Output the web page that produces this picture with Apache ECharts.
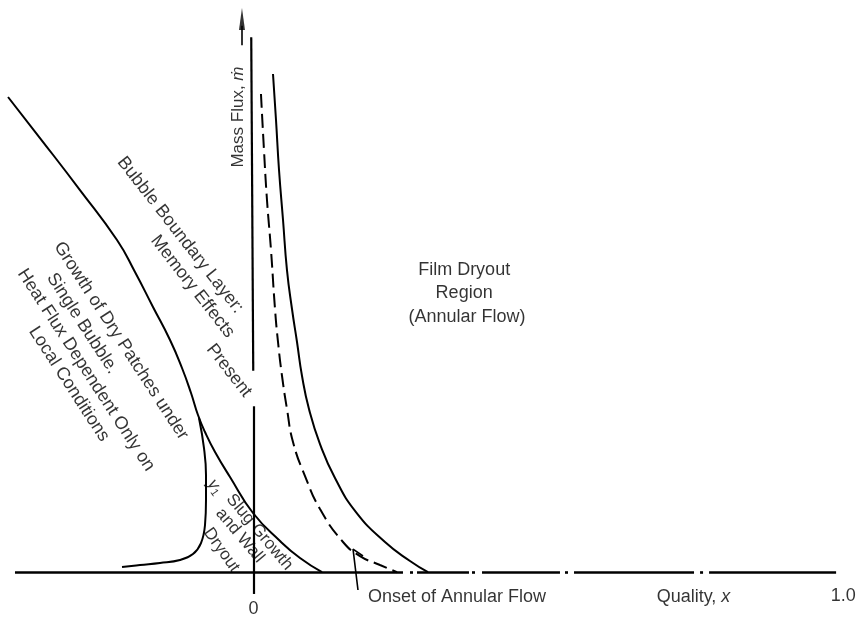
<!DOCTYPE html>
<html><head><meta charset="utf-8">
<script src="https://cdn.jsdelivr.net/npm/echarts@6/dist/echarts.min.js"></script>
<style>html,body{margin:0;padding:0;background:#fff}#c{width:864px;height:618px}</style>
</head><body><div id="c"></div>
<script>
// ---------- data (quality x, mass flux in arbitrary units) ----------
const boundaryCurve = [[-0.4164,83.05],[-0.3622,75.88],[-0.2944,66.79],[-0.2316,58.05],[-0.2011,52.46],[-0.1706,46.35],[-0.1417,40.58],[-0.1214,35.69],[-0.1061,31.32],[-0.0943,27.47],[-0.0824,24.50],[-0.0654,21.01],[-0.0400,16.64],[-0.0010,10.35],[0.0448,5.45],[0.0787,2.48],[0.1160,0]];
const slugCurve = [[-0.0926,26.95],[-0.0841,21.70],[-0.0807,16.99],[-0.0807,12.62],[-0.0824,8.25],[-0.0892,5.10],[-0.1028,3.18],[-0.1248,2.13],[-0.1587,1.61],[-0.1926,1.26],[-0.2231,0.91]];
const annularOnsetCurve = [[0.0125,83.57],[0.0176,73.78],[0.0227,65.05],[0.0295,56.31],[0.0363,46.00],[0.0414,40.23],[0.0482,34.29],[0.0566,28.52],[0.0668,22.75],[0.0872,16.81],[0.1126,11.04],[0.1516,5.28],[0.1804,2.83],[0.2143,1.26],[0.2432,0]];
const filmDryoutCurve = [[0.0329,87.06],[0.0380,79.03],[0.0431,70.29],[0.0499,61.55],[0.0566,52.81],[0.0651,46.00],[0.0736,40.23],[0.0821,34.29],[0.0939,28.52],[0.1126,22.40],[0.1380,16.46],[0.1736,10.52],[0.2228,5.28],[0.2652,1.96],[0.2957,0]];
const onsetPointer = [[0.1855,2.83],[0.1686,4.05],[0.1770,-3.11]];
// quality axis pieces (x from, x to) at mass flux 0
const qualityAxisDashes = [[-0.4046,0.2533],[0.2771,0.3652],[0.3873,0.5195],[0.5433,0.7468],[0.7723,0.9877]];
const qualityAxisDots = [[0.2652,0.2703],[0.3703,0.3754],[0.5280,0.5331],[0.7570,0.7621]];
// mass flux axis pieces ([x,y] from, [x,y] to)
const massFluxAxis = [[[-0.004,93.5],[-0.0006,35.2]],[[0,29.0],[0,-3.8]]];
const massFluxArrow = [[-0.0197,92.1],[-0.0197,95.5]];
const arrowHead = [-0.0197,96.7];
const tickLabels = ['0','1.0'];
const tickValues = [0,1.0];

// ---------- layout ----------
const X_MIN=-0.43, X_MAX=1.035, Y_MIN=-8, Y_MAX=100;
const FONT = '"Liberation Sans", Arial, "DejaVu Sans", sans-serif';
const annotations = [
  {t:'Film Dryout', p:[0.357,52.77], r:0, s:18},
  {t:'Region', p:[0.357,48.75], r:0, s:18},
  {t:'(Annular Flow)', p:[0.362,44.65], r:0, s:18},
  {t:'{a|Mass Flux, }{i|ṁ}', p:[-0.0265,79.55], r:90, s:17},
  {t:'Bubble Boundary Layer:', p:[-0.1245,58.93], r:-52, s:18},
  {t:'Memory Effects', p:[-0.1036,49.93], r:-52, s:18},
  {t:'Present', p:[-0.0417,35.25], r:-52, s:18},
  {t:'Growth of Dry Patches under', p:[-0.2247,40.45], r:-57, s:18},
  {t:'Single Bubble.', p:[-0.2903,43.46], r:-57, s:18},
  {t:'Heat Flux Dependent Only on', p:[-0.2842,35.33], r:-57, s:18},
  {t:'Local Conditions', p:[-0.3130,32.89], r:-57, s:18},
  {t:'{i|y}{sub|1}', p:[-0.0654,14.89], r:-55, s:17},
  {t:'Slug Growth', p:[0.010,7.02], r:-50, s:17},
  {t:'and Wall', p:[-0.0231,6.41], r:-50, s:17},
  {t:'Dryout', p:[-0.0544,3.88], r:-55, s:17},
  {t:'Onset of Annular Flow', p:[0.194,-4.33], r:0, s:18, align:'left'},
  {t:'{a|Quality, }{i|x}', p:[0.7459,-4.33], r:0, s:18},
  {t:tickLabels[0], p:[tickValues[0],-6.43], r:0, s:18},
  {t:tickLabels[1], p:[tickValues[1],-4.16], r:0, s:18}
];

const black = '#000';
function seg(list){ return list.map(c => ({coords:c})); }

const chart = echarts.init(document.getElementById('c'));
chart.setOption({
  animation:false,
  backgroundColor:'#fff',
  grid:{left:0,right:0,top:0,bottom:0},
  xAxis:{type:'value',min:X_MIN,max:X_MAX,show:false},
  yAxis:{type:'value',min:Y_MIN,max:Y_MAX,show:false},
  series:[
    {type:'lines',coordinateSystem:'cartesian2d',silent:true,
      data:seg(qualityAxisDashes.map(d=>[[d[0],0],[d[1],0]])),
      lineStyle:{color:black,width:2.6,opacity:1}},
    {type:'lines',coordinateSystem:'cartesian2d',silent:true,
      data:seg(qualityAxisDots.map(d=>[[d[0],0],[d[1],0]])),
      lineStyle:{color:black,width:2.6,opacity:1}},
    {type:'lines',coordinateSystem:'cartesian2d',silent:true,
      data:seg(massFluxAxis),
      lineStyle:{color:black,width:2.2,opacity:1}},
    {type:'lines',coordinateSystem:'cartesian2d',silent:true,
      data:seg([massFluxArrow]),
      lineStyle:{color:black,width:1.6,opacity:1}},
    {type:'scatter',silent:true,data:[arrowHead],symbol:'triangle',symbolSize:[6,22],
      itemStyle:{color:black}},
    {type:'line',data:boundaryCurve,smooth:0.5,showSymbol:false,silent:true,
      lineStyle:{color:black,width:2}},
    {type:'line',data:slugCurve,smooth:0.45,showSymbol:false,silent:true,
      lineStyle:{color:black,width:2}},
    {type:'line',data:annularOnsetCurve,smooth:0.5,showSymbol:false,silent:true,
      lineStyle:{color:black,width:2,type:[14,6]}},
    {type:'line',data:filmDryoutCurve,smooth:0.5,showSymbol:false,silent:true,
      lineStyle:{color:black,width:2}},
    {type:'line',data:onsetPointer,smooth:false,showSymbol:false,silent:true,
      lineStyle:{color:black,width:1.6}},
    {type:'scatter',silent:true,symbolSize:0,
      data:annotations.map(a=>({
        value:a.p,
        label:{show:true,position:'inside',formatter:a.t,rotate:a.r,
          align:a.align||'center',verticalAlign:'middle',
          color:black,fontSize:a.s,fontFamily:FONT,
          rich:{
            a:{fontSize:a.s,fontFamily:FONT,color:black},
            i:{fontSize:a.s,fontFamily:FONT,color:black,fontStyle:'italic'},
            sub:{fontSize:Math.round(a.s*0.65),fontFamily:FONT,color:black,padding:[8,0,0,0]}
          }}
      }))}
  ]
});
</script></body></html>
